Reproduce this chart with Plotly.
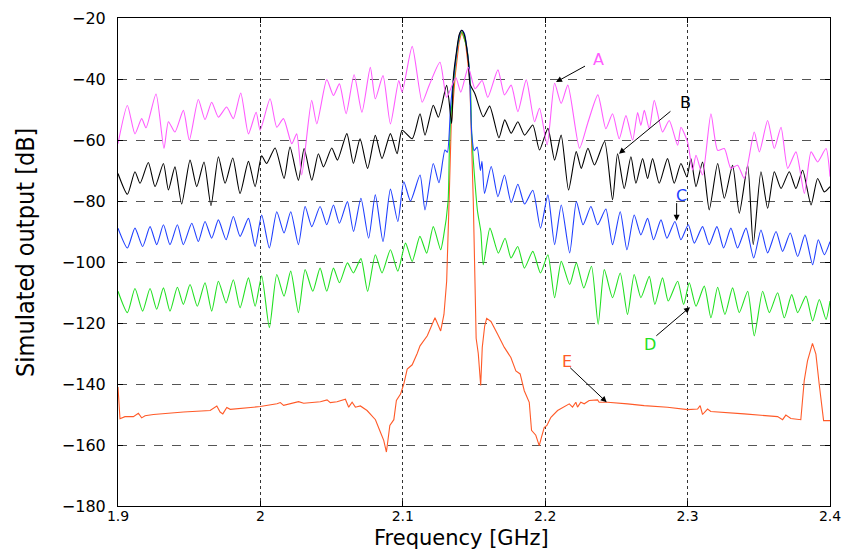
import plotly.graph_objects as go

# ---------------- data: (frequency GHz, output dB) ----------------
points_A = [
    (1.9, -61.2), (1.9066, -48.7), (1.9119, -58), (1.9166, -53), (1.9197, -56), (1.9267, -44.9), (1.9323, -62.8),
    (1.9354, -54), (1.94, -57.4), (1.9459, -50.3), (1.9501, -60), (1.9564, -46.7), (1.9611, -53.3), (1.9658, -47.6),
    (1.9705, -52.5), (1.9763, -49.2), (1.981, -53), (1.9862, -44.6), (1.9916, -58), (1.997, -50.9), (1.9998, -56.8),
    (2.0068, -46.5), (2.0115, -55.8), (2.0162, -53), (2.022, -61.2), (2.0255, -58), (2.029, -71.5), (2.036, -47),
    (2.0396, -54.7), (2.0466, -40.2), (2.0513, -45.4), (2.0555, -41.6), (2.0602, -51.4), (2.0658, -38.6),
    (2.0713, -50.9), (2.0772, -36.2), (2.0807, -46.5), (2.0861, -38.9), (2.0913, -54.7), (2.0972, -40.5),
    (2.0995, -44.3), (2.1066, -29.3), (2.1136, -47.6), (2.1184, -42.2), (2.1261, -34.5), (2.1308, -46),
    (2.1372, -39.5), (2.1407, -44.3), (2.146, -36.2), (2.1507, -43.2), (2.1557, -40.5), (2.1597, -46),
    (2.1668, -37), (2.1714, -45.2), (2.1761, -42), (2.1808, -50.7), (2.1867, -40.3), (2.1925, -54), (2.196, -49.6),
    (2.2014, -61.6), (2.2066, -41.4), (2.2112, -48), (2.2159, -42), (2.2241, -62.7), (2.2301, -54.1), (2.237, -45.2),
    (2.2426, -56.3), (2.2473, -51.4), (2.252, -59.6), (2.2567, -52), (2.2614, -60.1), (2.2649, -51), (2.2672, -55.2),
    (2.2696, -50.3), (2.2731, -56.3), (2.2766, -47), (2.2824, -57.4), (2.2871, -53.6), (2.293, -61.7),
    (2.2953, -55.8), (2.3, -60.7), (2.3035, -69.9), (2.3059, -65), (2.3105, -71.5), (2.3164, -51.4), (2.3211, -63.4),
    (2.3258, -62.8), (2.3304, -69.3), (2.3351, -68.3), (2.3398, -72.6), (2.3468, -57.4), (2.3504, -63.9),
    (2.3562, -53.6), (2.3609, -62.8), (2.3656, -55.8), (2.3703, -69.3), (2.3761, -63.9), (2.382, -77.5),
    (2.3867, -63.9), (2.3913, -67.2), (2.3972, -62.8), (2.4, -72),
]

points_B = [
    (1.9, -71.0), (1.9066, -77.8), (1.9119, -70.4), (1.9155, -74.2), (1.9213, -67.4), (1.926, -75.3),
    (1.9319, -67.7), (1.9354, -76.4), (1.94, -68.8), (1.9447, -81), (1.9506, -66.6), (1.9553, -75.3),
    (1.9604, -67.2), (1.9653, -81.5), (1.9705, -65.5), (1.9752, -74.2), (1.9806, -65.9), (1.9857, -77.5),
    (1.9916, -67.0), (1.9963, -75.3), (2.0009, -65.2), (2.0044, -67.7), (2.0103, -62.6), (2.0166, -72.6),
    (2.0208, -62.3), (2.0267, -73.2), (2.0307, -62.8), (2.0361, -73.2), (2.0407, -64.5), (2.0443, -68.8),
    (2.0501, -62.6), (2.0541, -66.6), (2.0607, -57.9), (2.0653, -67.7), (2.07, -59.6), (2.0753, -69.3),
    (2.0807, -58.5), (2.0854, -66.1), (2.0913, -57.9), (2.096, -64.5), (2.0995, -56.8), (2.1066, -59.6),
    (2.1121, -51.4), (2.1156, -58.4), (2.1214, -48.6), (2.125, -52.5), (2.1308, -42.1), (2.1343, -54.6),
    (2.1355, -39.4), (2.1378, -30.7), (2.1396, -25.5), (2.1414, -24.0), (2.1432, -25.5), (2.146, -34),
    (2.1472, -41.6), (2.1507, -44.9), (2.1565, -52.4), (2.161, -48.9), (2.1675, -59.3), (2.1716, -53.4),
    (2.1761, -57.8), (2.1808, -54), (2.1855, -58.4), (2.1913, -55.1), (2.196, -63.3), (2.2019, -56.2),
    (2.2066, -66.6), (2.2112, -58.4), (2.2164, -76.4), (2.2218, -63.8), (2.2253, -69.3), (2.23, -62.7),
    (2.2346, -68.2), (2.2417, -60.5), (2.2473, -79.6), (2.2508, -64.5), (2.2555, -75.9), (2.2602, -65.5),
    (2.2637, -74.2), (2.2684, -66.1), (2.2719, -72.6), (2.2754, -66.1), (2.2801, -74.2), (2.2859, -66.1),
    (2.2906, -74.2), (2.2953, -67.7), (2.2995, -72.1), (2.3023, -66.1), (2.3059, -75.3), (2.3105, -67.2),
    (2.3152, -82.9), (2.3211, -67.7), (2.3258, -79.1), (2.3316, -68.3), (2.3363, -84), (2.3422, -68.3),
    (2.3461, -94.3), (2.3515, -70.4), (2.3562, -82.4), (2.3609, -70.4), (2.3656, -75.9), (2.3714, -70.4),
    (2.3761, -75.9), (2.3808, -69.9), (2.3867, -81.3), (2.3913, -72.6), (2.396, -77), (2.4, -75.3),
]

points_C = [
    (1.9, -88.9), (1.9066, -95.4), (1.9119, -88.9), (1.9173, -94.9), (1.9225, -88.4), (1.9272, -94.3),
    (1.9319, -87.8), (1.9365, -94.3), (1.9417, -87.8), (1.9459, -94.3), (1.9518, -87.3), (1.9564, -93.3),
    (1.9611, -86.7), (1.9658, -92.2), (1.9705, -86.2), (1.9759, -92.7), (1.981, -85.1), (1.9857, -91.6),
    (1.9916, -85.7), (1.9963, -94.9), (2.0009, -84.6), (2.0063, -95.4), (2.0115, -83.5), (2.0166, -90.5),
    (2.0213, -83.5), (2.0267, -94.3), (2.0314, -81.8), (2.0361, -88.4), (2.0419, -81.8), (2.0466, -87.8),
    (2.0513, -81.3), (2.0555, -87.3), (2.0611, -80.2), (2.0654, -90), (2.0706, -79.1), (2.076, -92.2),
    (2.0807, -78), (2.0861, -93.3), (2.0913, -76.1), (2.0965, -86.7), (2.1007, -73.7), (2.1054, -80),
    (2.1121, -71.5), (2.1156, -82.9), (2.1214, -67.7), (2.1254, -74), (2.1296, -63.3), (2.1313, -64),
    (2.1336, -48.7), (2.136, -38.4), (2.1388, -28), (2.1405, -24.5), (2.1414, -24), (2.1432, -25),
    (2.1466, -36.2), (2.1484, -57.9), (2.1501, -63.5), (2.1522, -62.3), (2.1545, -70), (2.1556, -67),
    (2.1574, -77.5), (2.1621, -68.7), (2.1668, -78.6), (2.1714, -71.5), (2.1761, -80.5), (2.1808, -74.5),
    (2.1855, -81), (2.1913, -76.5), (2.1967, -88.9), (2.2019, -78), (2.2066, -94.3), (2.2113, -81.3),
    (2.2172, -97), (2.2219, -80.2), (2.2266, -87.8), (2.2321, -81.8), (2.2368, -87.8), (2.2426, -82.6),
    (2.2473, -94.3), (2.2527, -83.5), (2.2574, -96), (2.2625, -84.6), (2.2672, -91.1), (2.2719, -85.7),
    (2.2761, -92.7), (2.2813, -86.2), (2.2855, -92.2), (2.2911, -86.7), (2.2953, -92.7), (2.3005, -87.8),
    (2.3047, -93.8), (2.3105, -88.4), (2.3152, -94.3), (2.3206, -88.4), (2.3253, -95.4), (2.3304, -88.9),
    (2.3351, -95.4), (2.341, -88.9), (2.3464, -98.7), (2.3515, -89.5), (2.3562, -97), (2.3621, -90),
    (2.3667, -96.5), (2.3721, -90.5), (2.3773, -98.2), (2.3824, -91.1), (2.3878, -100.9), (2.3918, -92.7),
    (2.396, -97.6), (2.4, -93.3),
]

points_D = [
    (1.9, -109.6), (1.9066, -116.6), (1.9119, -108.7), (1.9173, -116.1), (1.9225, -108.7), (1.9272, -115.5),
    (1.9319, -108.5), (1.9365, -116.1), (1.9417, -108.3), (1.9459, -113.9), (1.9506, -107.4), (1.9557, -114.5),
    (1.9611, -106.8), (1.9658, -116.1), (1.9705, -106.3), (1.9759, -113.4), (1.981, -105.8), (1.9857, -115),
    (1.9916, -105.2), (1.9963, -114.5), (2.0009, -104.5), (2.0063, -121.5), (2.0115, -104.1), (2.0166, -111.2),
    (2.0213, -103), (2.0267, -116.6), (2.0314, -102.5), (2.0368, -109.6), (2.0419, -102), (2.0466, -109.6),
    (2.0513, -102), (2.0555, -106.8), (2.0611, -100.3), (2.0653, -103.6), (2.0706, -98.9), (2.0753, -109.6),
    (2.0807, -97.6), (2.0854, -103.6), (2.0913, -96), (2.0965, -103), (2.1019, -93.8), (2.1066, -99.8),
    (2.112, -91.6), (2.1168, -97.1), (2.1214, -88.4), (2.1266, -96), (2.1285, -92), (2.1318, -80),
    (2.1326, -65), (2.1334, -55), (2.136, -40), (2.139, -28), (2.1414, -24.5), (2.145, -30), (2.1475, -42),
    (2.1484, -58), (2.1507, -74), (2.1525, -83.5), (2.1548, -90), (2.1565, -100.9), (2.1612, -88.9),
    (2.1671, -97.1), (2.1718, -92.2), (2.176, -98.7), (2.1807, -94.9), (2.1854, -102), (2.1913, -96.5),
    (2.1967, -103.6), (2.2019, -97.6), (2.2066, -111.7), (2.2113, -99.8), (2.2172, -107.4), (2.2219, -100.3),
    (2.2271, -108.5), (2.2325, -101.4), (2.2372, -120.4), (2.2415, -102.5), (2.2473, -111.7), (2.2527, -103.6),
    (2.2578, -117.2), (2.2625, -104.1), (2.2672, -111.7), (2.2731, -104.7), (2.277, -113.9), (2.2824, -105.2),
    (2.2864, -112.8), (2.293, -106.3), (2.2972, -113.9), (2.3012, -106.8), (2.3059, -114.5), (2.3117, -107.9),
    (2.3164, -118.3), (2.3211, -108.3), (2.3262, -117.2), (2.3316, -108.5), (2.3363, -116.6), (2.3422, -109.6),
    (2.3468, -124.2), (2.3527, -109.6), (2.3574, -116.6), (2.3632, -110.1), (2.3679, -118.3), (2.3731, -110.7),
    (2.3773, -116.6), (2.3831, -111.2), (2.3878, -119.3), (2.3925, -112.3), (2.3972, -118.8), (2.4, -112.8),
]

points_E = [
    (1.9, -141), (1.9014, -151.4), (1.9049, -150.7), (1.9108, -150.7), (1.9143, -149.6), (1.9166, -151.1),
    (1.919, -150.4), (1.9249, -150), (1.946, -149.2), (1.9647, -148.7), (1.9694, -147.2), (1.9717, -149.2),
    (1.9736, -149.8), (1.9764, -147.7), (1.9788, -148.3), (1.9999, -147.4), (2.0116, -146.5), (2.014, -146.1),
    (2.0163, -147), (2.0257, -146), (2.0268, -145.8), (2.0304, -146.3), (2.0421, -145.8), (2.0468, -145.2),
    (2.0491, -146.1), (2.0538, -145.8), (2.0562, -145.4), (2.0597, -145), (2.062, -147.6), (2.0644, -146),
    (2.0667, -147.6), (2.0702, -147.2), (2.0749, -148.7), (2.0808, -151.7), (2.0843, -155.8), (2.0866, -158.5),
    (2.0885, -162.3), (2.0897, -158.5), (2.0909, -153.6), (2.0937, -151.7), (2.0955, -145.4), (2.0984, -143.3),
    (2.1007, -140), (2.1031, -135.1), (2.1066, -133.7), (2.1101, -130), (2.1121, -127.5), (2.1172, -124.2),
    (2.1226, -118.3), (2.1266, -122.6), (2.1289, -117.2), (2.1308, -106.3), (2.1318, -93.3), (2.1325, -80.2),
    (2.134, -55), (2.137, -38), (2.1395, -28), (2.1414, -24.5), (2.144, -28), (2.147, -40), (2.1495, -80),
    (2.1505, -100), (2.1515, -125), (2.153, -130), (2.1547, -140.5), (2.1558, -128), (2.1575, -121),
    (2.1589, -118.5), (2.1619, -119.5), (2.1666, -123.7), (2.1713, -128), (2.1759, -131.3), (2.1794, -135.7),
    (2.1824, -136.7), (2.1853, -142.2), (2.1888, -146), (2.1904, -155.2), (2.1934, -156.8), (2.1958, -160.2),
    (2.1974, -157.4), (2.1993, -154.3), (2.2012, -153.6), (2.204, -150.9), (2.2087, -148.7), (2.2133, -147.6),
    (2.2169, -146.5), (2.2192, -147.6), (2.2215, -146), (2.2227, -147.6), (2.225, -146), (2.2274, -146.5),
    (2.2309, -145.4), (2.2368, -145.2), (2.2379, -146), (2.2438, -146), (2.2531, -146.2), (2.2578, -146.5),
    (2.2695, -147.1), (2.2859, -147.6), (2.3, -148.4), (2.307, -148.2), (2.3088, -147.1), (2.3105, -150),
    (2.314, -148.2), (2.3163, -149), (2.3397, -149.8), (2.3632, -150.7), (2.3667, -151.7), (2.369, -150.2),
    (2.3725, -151.3), (2.3795, -151.7), (2.3819, -138.9), (2.3842, -132.4), (2.3877, -126.7), (2.3901, -130.2),
    (2.3924, -140), (2.3955, -152), (2.4, -152),
]

x_ticks = [1.9, 2.0, 2.1, 2.2, 2.3, 2.4]
x_ticktext = ["1.9", "2", "2.1", "2.2", "2.3", "2.4"]
y_ticks = [-180, -160, -140, -120, -100, -80, -60, -40, -20]
y_ticktext = ["\u2212180", "\u2212160", "\u2212140", "\u2212120", "\u2212100", "\u221280", "\u221260",
              "\u221240", "\u221220"]

labels = ["A", "B", "C", "D", "E"]
label_pos = [(2.2371, -33.5), (2.2982, -47.6), (2.2958, -78.2), (2.2736, -127.0), (2.2151, -132.6)]
arrow_tail = [(2.2290, -35.5), (2.2890, -50.2), (2.2923, -80.2), (2.2770, -124.6), (2.2165, -134.2)]
arrow_tip = [(2.2076, -41.0), (2.2518, -64.5), (2.2923, -86.5), (2.3017, -114.8), (2.2432, -146.0)]

colors = {"A": "#ff5cff", "B": "#000000", "C": "#2040ff", "D": "#22e022", "E": "#ff5a28"}
series = {"A": points_A, "B": points_B, "C": points_C, "D": points_D, "E": points_E}

fig = go.Figure()
for name in ["E", "D", "C", "B", "A"]:
    pts = series[name]
    fx = [p[0] for p in pts]
    fy = [p[1] for p in pts]
    shape = "linear" if name == "E" else "spline"
    fig.add_trace(go.Scatter(x=fx, y=fy, mode="lines", name=name,
                             line=dict(color=colors[name], width=1.1, shape=shape, smoothing=0.6),
                             showlegend=False, hoverinfo="skip"))

annotations = []
for name, (tx, ty), (ax_, ay_), (hx, hy) in zip(labels, label_pos, arrow_tail, arrow_tip):
    annotations.append(dict(x=tx, y=ty, xref="x", yref="y", text=name, showarrow=False,
                            font=dict(family="DejaVu Sans", size=16, color=colors[name])))
    annotations.append(dict(x=hx, y=hy, xref="x", yref="y", ax=ax_, ay=ay_, axref="x", ayref="y",
                            text="", showarrow=True, arrowhead=2, arrowsize=1.2, arrowwidth=1,
                            arrowcolor="#000000"))

annotations.append(dict(text="Frequency [GHz]", xref="paper", yref="paper", x=0.5, y=0,
                        xanchor="center", yanchor="middle", xshift=-13, yshift=-32, showarrow=False,
                        font=dict(family="DejaVu Sans", size=21, color="#000")))
annotations.append(dict(text="Simulated output [dB]", xref="paper", yref="paper", x=0, y=0.5,
                        xanchor="center", yanchor="middle", xshift=-93, yshift=9, textangle=-90,
                        showarrow=False,
                        font=dict(family="Liberation Sans Narrow, DejaVu Sans Condensed, sans-serif",
                                  size=25, color="#000")))

# the page body adds an 8 px offset, so margins are shifted to keep the plot box in place
fig.update_layout(
    width=851, height=549,
    margin=dict(l=110, r=29, t=10, b=51, autoexpand=False),
    paper_bgcolor="white", plot_bgcolor="white",
    annotations=annotations,
    xaxis=dict(range=[1.9, 2.4], tickvals=x_ticks, ticktext=x_ticktext, automargin=False,
               showgrid=True, gridcolor="#333333", griddash="dot", gridwidth=1,
               ticks="inside", ticklen=5, tickcolor="#000", showline=True, linecolor="#000",
               linewidth=1, mirror="ticks", zeroline=False, ticklabeloverflow="allow",
               ticklabelstandoff=-3,
               tickfont=dict(family="DejaVu Sans", size=14, color="#000")),
    yaxis=dict(range=[-180, -20], tickvals=y_ticks, ticktext=y_ticktext, automargin=False,
               showgrid=True, gridcolor="#555555", griddash="dash", gridwidth=1,
               ticks="inside", ticklen=5, tickcolor="#000", showline=True, linecolor="#000",
               linewidth=1, mirror="ticks", zeroline=False, ticklabelstandoff=8,
               ticklabeloverflow="allow",
               tickfont=dict(family="DejaVu Sans", size=16, color="#000")),
)

fig.write_html("out.html")
